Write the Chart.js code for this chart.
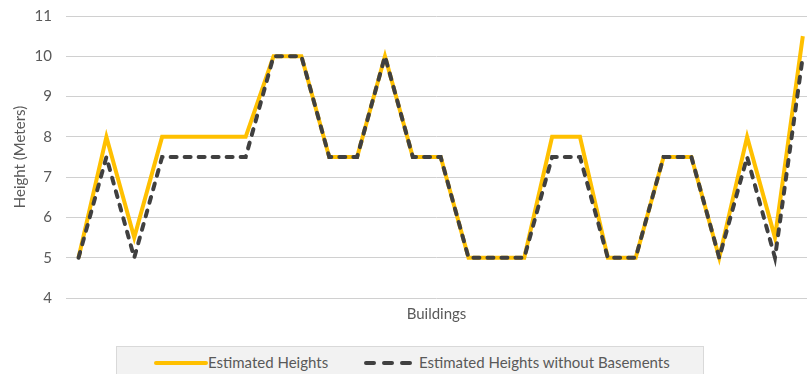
<!DOCTYPE html>
<html>
<head>
<meta charset="utf-8">
<script src="https://cdn.jsdelivr.net/npm/chart.js@4"></script>
<style>
    html, body { margin: 0; padding: 0; background: #fff; overflow: hidden; }
    #wrap { position: relative; width: 807px; height: 374px; font-family: Lato, 'Open Sans', sans-serif; }
    #heights { position: absolute; left: 0; top: 0; }
    .legend {
        position: absolute; left: 116px; top: 346px; width: 588px; height: 40px;
        background: #f2f2f2; border: 1px solid #d9d9d9; box-sizing: border-box;
        color: #595959; font-size: 15px;
    }
    .legend span { position: absolute; top: 6px; white-space: nowrap; }
    .legend svg { position: absolute; top: 13px; }
</style>
</head>
<body>
<div id="wrap">
    <canvas id="heights" width="807" height="340"></canvas>
    <div class="legend">
        <svg style="left:36px" width="56" height="6"><line x1="3" y1="3" x2="53" y2="3" stroke="#ffc000" stroke-width="4" stroke-linecap="round"/></svg>
        <span style="left:91px">Estimated Heights</span>
        <svg style="left:246px" width="50" height="6"><line x1="3" y1="3" x2="47" y2="3" stroke="#404040" stroke-width="4" stroke-linecap="round" stroke-dasharray="8 10"/></svg>
        <span style="left:302px">Estimated Heights without Basements</span>
    </div>
</div>
<script>
const buildings = ['1', '2', '3', '4', '5', '6', '7', '8', '9', '10', '11', '12', '13', '14',
    '15', '16', '17', '18', '19', '20', '21', '22', '23', '24', '25', '26', '27'];
const estimatedHeights = [5, 8, 5.5, 8, 8, 8, 8, 10, 10, 7.5, 7.5, 10, 7.5, 7.5,
    5, 5, 5, 8, 8, 5, 5, 7.5, 7.5, 5, 8, 5.5, 10.5];
const heightsNoBasement = [5, 7.5, 5, 7.5, 7.5, 7.5, 7.5, 10, 10, 7.5, 7.5, 10, 7.5, 7.5,
    5, 5, 5, 7.5, 7.5, 5, 5, 7.5, 7.5, 5, 7.5, 5, 10];
const yTicks = [4, 5, 6, 7, 8, 9, 10, 11];

const textColor = '#595959';
const fontFamily = "Lato, 'Open Sans', sans-serif";

// buildings sit at positions 0..26 on a linear axis so the edges can be trimmed
const toPoints = (values) => values.map((v, i) => ({ x: i, y: v, name: buildings[i] }));

const ctx = document.querySelector('#heights').getContext('2d');

const config = {
    type: 'line',
    data: {
        datasets: [
            {
                label: 'Estimated Heights',
                data: toPoints(estimatedHeights),
                borderColor: '#ffc000',
                borderWidth: 4,
                pointRadius: 0,
                tension: 0,
                order: 2,
            },
            {
                label: 'Estimated Heights without Basements',
                data: toPoints(heightsNoBasement),
                borderColor: '#404040',
                borderWidth: 4,
                borderDash: [6, 8],
                borderCapStyle: 'round',
                pointRadius: 0,
                tension: 0,
                order: 1,
            }
        ]
    },
    options: {
        responsive: false,
        animation: false,
        layout: { padding: { top: 16, right: 0, left: 0, bottom: 0 } },
        plugins: {
            legend: { display: false },
            tooltip: { enabled: false },
        },
        scales: {
            x: {
                type: 'linear',
                min: -0.45,
                max: 26.15,
                grid: { display: false },
                border: { display: false },
                ticks: { display: false },
                title: {
                    display: true,
                    text: 'Buildings',
                    color: textColor,
                    font: { size: 15, family: fontFamily },
                    padding: { top: 0, bottom: 17 },
                },
                afterFit: (scale) => { scale.height = 42; },
            },
            y: {
                min: 4,
                max: 11,
                afterBuildTicks: (scale) => { scale.ticks = yTicks.map((v) => ({ value: v })); },
                grid: { color: '#d0d0d0', lineWidth: 1, drawTicks: false },
                border: { display: false },
                ticks: {
                    color: textColor,
                    padding: 14,
                    font: { size: 15, family: fontFamily },
                },
                title: {
                    display: true,
                    text: 'Height (Meters)',
                    color: textColor,
                    font: { size: 15, family: fontFamily },
                    padding: { top: 11, bottom: 0 },
                },
                // fixed width; the tick padding should not push the plot down
                afterFit: (scale) => {
                    scale.width = 66;
                    scale.paddingTop = 0;
                    scale.paddingBottom = 0;
                },
            },
        }
    }
};

const chart = new Chart(ctx, config);
</script>
</body>
</html>
